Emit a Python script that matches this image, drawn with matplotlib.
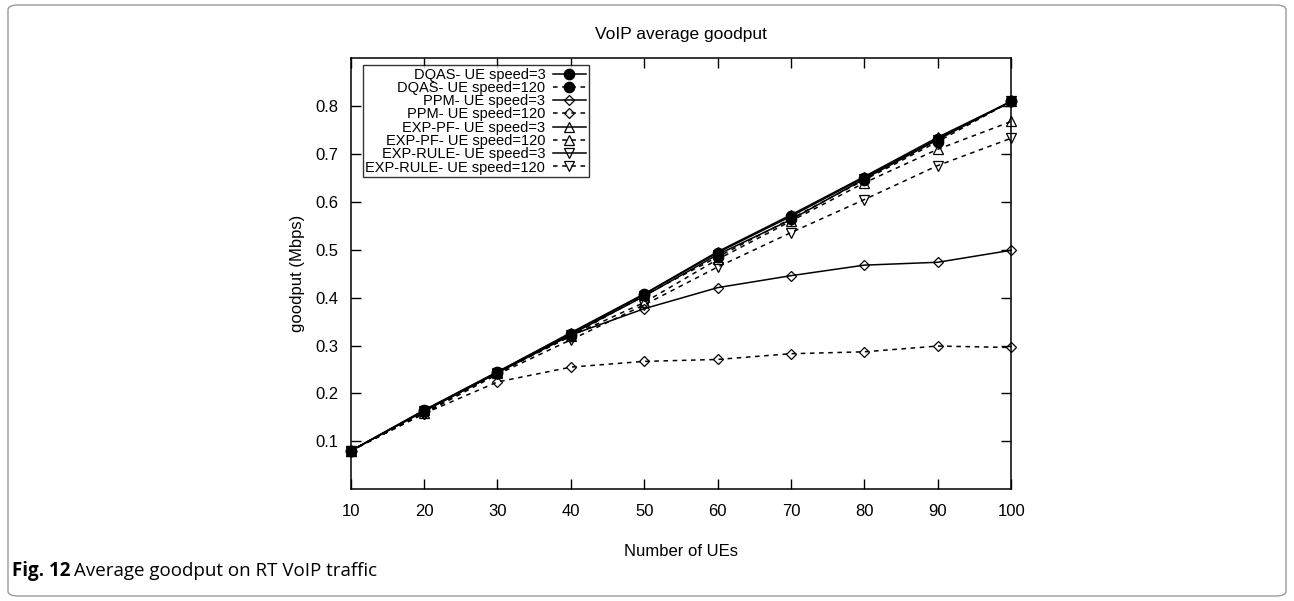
import numpy as np
import matplotlib
matplotlib.use('Agg')
from matplotlib import pyplot as plt
from matplotlib.patches import FancyBboxPatch

plt.rcParams['font.family'] = ['Liberation Sans', 'DejaVu Sans']

# data =========================================================================
n_ues = [10, 20, 30, 40, 50, 60, 70, 80, 90, 100]

dqas_3 = [0.080, 0.165, 0.245, 0.325, 0.407, 0.494, 0.570, 0.651, 0.732, 0.810]
dqas_120 = [0.080, 0.163, 0.243, 0.320, 0.405, 0.485, 0.565, 0.646, 0.726, 0.810]
ppm_3 = [0.080, 0.163, 0.243, 0.322, 0.377, 0.421, 0.446, 0.468, 0.474, 0.499]
ppm_120 = [0.080, 0.158, 0.224, 0.255, 0.267, 0.271, 0.283, 0.287, 0.299, 0.296]
exp_pf_3 = [0.080, 0.165, 0.245, 0.327, 0.408, 0.496, 0.573, 0.653, 0.735, 0.810]
exp_pf_120 = [0.080, 0.160, 0.243, 0.320, 0.390, 0.480, 0.560, 0.640, 0.710, 0.768]
exp_rule_3 = [0.080, 0.163, 0.243, 0.323, 0.403, 0.490, 0.563, 0.648, 0.730, 0.810]
exp_rule_120 = [0.080, 0.158, 0.240, 0.312, 0.385, 0.464, 0.536, 0.605, 0.676, 0.733]

series = [
    ('DQAS- UE speed=3', dqas_3, '-', 'o', 'black'),
    ('DQAS- UE speed=120', dqas_120, '--', 'o', 'black'),
    ('PPM- UE speed=3', ppm_3, '-', 'D', 'none'),
    ('PPM- UE speed=120', ppm_120, '--', 'D', 'none'),
    ('EXP-PF- UE speed=3', exp_pf_3, '-', '^', 'none'),
    ('EXP-PF- UE speed=120', exp_pf_120, '--', '^', 'none'),
    ('EXP-RULE- UE speed=3', exp_rule_3, '-', 'v', 'none'),
    ('EXP-RULE- UE speed=120', exp_rule_120, '--', 'v', 'none'),
]

# =============================================================================
fig = plt.figure(figsize=(12.94, 6.01), dpi=100)

# rounded frame around the figure and caption
frame = FancyBboxPatch(
    (8 / 1294, 5 / 601), 1278 / 1294, 591 / 601,
    boxstyle='round,pad=0,rounding_size=0.008',
    transform=fig.transFigure, fill=False, ec='#9a9a9a', lw=1.0)
fig.patches.append(frame)

ax = fig.add_axes([0.271, 0.186, 0.5104, 0.717])

for label, values, ls, marker, face in series:
    size = 7.5 if marker == 'o' else 7
    if marker == 'D':
        size = 5.5
    ax.plot(n_ues, values, ls=ls, lw=1.1, color='black',
            dashes=(3, 3) if ls == '--' else (None, None),
            marker=marker, markersize=size,
            markerfacecolor=face, markeredgecolor='black',
            markeredgewidth=0.9, label=label, clip_on=False)

ax.set_xlim(10, 100)
ax.set_ylim(0, 0.9)
ax.set_xticks(n_ues)
ax.set_yticks([0.1, 0.2, 0.3, 0.4, 0.5, 0.6, 0.7, 0.8])
ax.set_yticklabels(['0.1', '0.2', '0.3', '0.4', '0.5', '0.6', '0.7', '0.8'])
ax.tick_params(axis='x', pad=11)
ax.tick_params(axis='y', pad=9)
ax.tick_params(direction='in', top=True, right=True, length=7, width=1,
               labelsize=12)
for spine in ax.spines.values():
    spine.set_linewidth(1.1)

ax.set_title('VoIP average goodput', fontsize=12.5, pad=14)
ax.set_xlabel('Number of UEs', fontsize=12, labelpad=18)
ax.set_ylabel('goodput (Mbps)', fontsize=12, labelpad=7)

leg = ax.legend(loc='upper left', bbox_to_anchor=(0.018, 0.985),
                markerfirst=False, fontsize=10.5, frameon=True, fancybox=False,
                edgecolor='black', borderpad=0.2, labelspacing=-0.05,
                handlelength=2.3, handletextpad=0.5, borderaxespad=0)
leg.get_frame().set_linewidth(1.0)

cap_y = 1 - 571 / 601
t1 = fig.text(12 / 1294, cap_y, 'Fig. 12', fontsize=13.5,
              fontweight='bold', family='Open Sans', va='center')
fig.canvas.draw()
x_end = t1.get_window_extent().x1
fig.text((x_end + 4) / 1294, cap_y, 'Average goodput on RT VoIP traffic',
         fontsize=13.5, family='Open Sans', va='center')

fig.savefig('out.png', dpi=100)
